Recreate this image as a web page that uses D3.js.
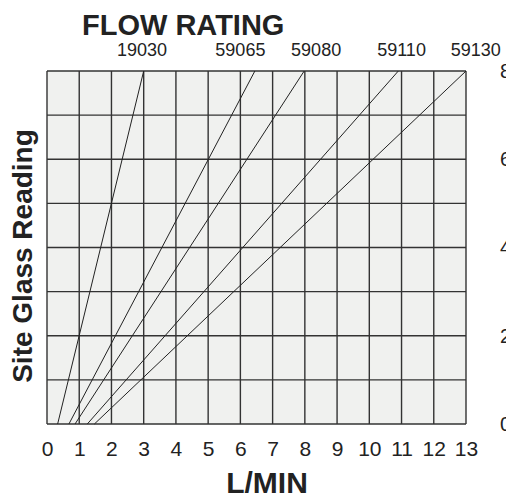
<!DOCTYPE html>
<html>
<head>
<meta charset="utf-8">
<script src="https://cdn.jsdelivr.net/npm/d3@7"></script>
<style>
  body { margin: 0; background: #fff; }
  svg { display: block; }
  text { font-family: "Liberation Sans", Arial, sans-serif; fill: #222; }
</style>
</head>
<body>
<div id="chart"></div>
<script>
// Dados
const series = ["19030", "59065", "59080", "59110", "59130"];
const flowAtZero = [0.33, 0.68, 0.87, 1.25, 1.47];   // L/MIN na leitura 0
const flowAtTop = [3.0, 6.45, 7.98, 10.9, 13.0];     // L/MIN na leitura 8
const labelFlow = [2.95, 6.0, 8.35, 11.0, 13.3];     // posição dos rótulos no topo
const xTicks = [0, 1, 2, 3, 4, 5, 6, 7, 8, 9, 10, 11, 12, 13];
const yGrid = [0, 1, 2, 3, 4, 5, 6, 7, 8];
const yTicks = [0, 2, 4, 6, 8];

const W = 506, H = 495;
const margin = {top: 71, right: 40, bottom: 71, left: 47};
const width = W - margin.left - margin.right;
const height = H - margin.top - margin.bottom;

const svg = d3.select("#chart").append("svg")
    .attr("width", W)
    .attr("height", H);

const g = svg.append("g")
    .attr("transform", `translate(${margin.left},${margin.top})`);

// Escalas
const x = d3.scaleLinear().domain([0, 13]).range([0, width]);
const y = d3.scaleLinear().domain([0, 8]).range([height, 0]);

// Fundo
g.append("rect")
    .attr("width", width)
    .attr("height", height)
    .attr("fill", "#f0f1ef");

// Grade
g.selectAll(".vgrid").data(xTicks).join("line")
    .attr("x1", d => x(d)).attr("x2", d => x(d))
    .attr("y1", 0).attr("y2", height)
    .attr("stroke", "#333").attr("stroke-width", 1.4);

g.selectAll(".hgrid").data(yGrid).join("line")
    .attr("x1", 0).attr("x2", width)
    .attr("y1", d => y(d)).attr("y2", d => y(d))
    .attr("stroke", "#333").attr("stroke-width", 1.4);

// Linhas de vazão
g.selectAll(".flow").data(series).join("line")
    .attr("x1", (d, i) => x(flowAtZero[i]))
    .attr("y1", y(0))
    .attr("x2", (d, i) => x(flowAtTop[i]))
    .attr("y2", y(8))
    .attr("stroke", "#222").attr("stroke-width", 1);

// Eixo inferior
const xAxis = g.append("g")
    .attr("transform", `translate(0,${height})`)
    .call(d3.axisBottom(x).tickValues(xTicks).tickSize(0).tickPadding(17));
xAxis.select(".domain").remove();
xAxis.selectAll("text")
    .style("font-size", "21px")
    .style("font-family", "Liberation Sans, Arial, sans-serif")
    .attr("fill", "#222");

// Eixo direito (cortado pela borda, como no original)
const yAxis = g.append("g")
    .attr("transform", `translate(${width},0)`)
    .call(d3.axisRight(y).tickValues(yTicks).tickSize(0).tickPadding(34));
yAxis.select(".domain").remove();
yAxis.selectAll("text")
    .style("font-size", "20px")
    .style("font-family", "Liberation Sans, Arial, sans-serif")
    .attr("fill", "#222");

// Rótulos do topo
g.selectAll(".serie-label").data(series).join("text")
    .attr("x", (d, i) => x(labelFlow[i]))
    .attr("y", -15)
    .attr("text-anchor", "middle")
    .style("font-size", "18px")
    .text(d => d);

// Títulos
svg.append("text")
    .attr("x", 82).attr("y", 35)
    .style("font-size", "29px").style("font-weight", "bold")
    .text("FLOW RATING");

svg.append("text")
    .attr("x", 267).attr("y", 493)
    .attr("text-anchor", "middle")
    .style("font-size", "30px").style("font-weight", "bold")
    .text("L/MIN");

svg.append("text")
    .attr("transform", "translate(32,256) rotate(-90)")
    .attr("text-anchor", "middle")
    .style("font-size", "28px").style("font-weight", "bold")
    .text("Site Glass Reading");
</script>
</body>
</html>
